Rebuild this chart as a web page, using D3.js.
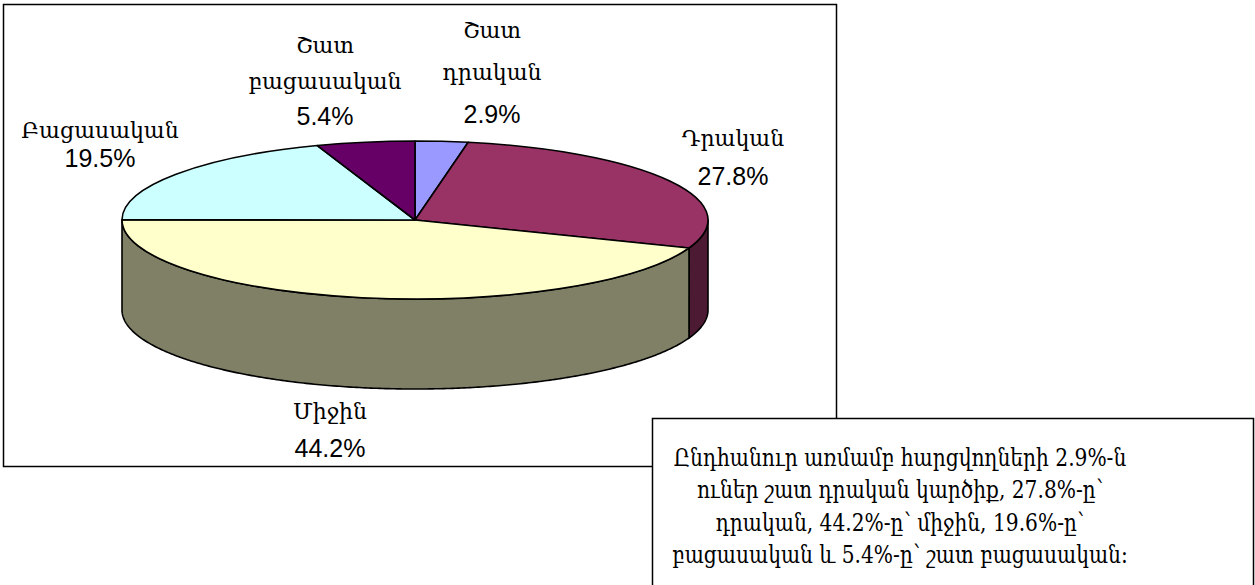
<!DOCTYPE html>
<html>
<head>
<meta charset="utf-8">
<script src="https://cdn.jsdelivr.net/npm/d3@7"></script>
<style>
  body { margin: 0; background: #fff; }
</style>
</head>
<body>
<script>
// data
var categories = ["Շատ դրական", "Դրական", "Միջին", "Բացասական", "Շատ բացասական"];
var values = [2.9, 27.8, 44.2, 19.5, 5.4];
var valueLabels = ["2.9%", "27.8%", "44.2%", "19.5%", "5.4%"];
var noteLines = [
  "Ընդհանուր առմամբ հարցվողների 2.9%-ն",
  "ուներ շատ դրական կարծիք, 27.8%-ը՝",
  "դրական, 44.2%-ը՝ միջին, 19.6%-ը՝",
  "բացասական և 5.4%-ը՝ շատ բացասական։"
];

// colours (top face / side wall)
var topColors = ["#9999ff", "#993366", "#ffffcc", "#ccffff", "#660066"];
var sideColors = ["#4c4c80", "#4d1a33", "#808066", "#668080", "#330033"];

// label anchors: centre x and baselines of each line
var labelLayout = [
  {x: 492, y: [38, 80, 123]},
  {x: 733, y: [146, 185]},
  {x: 330, y: [419, 457]},
  {x: 100, y: [138, 167]},
  {x: 325, y: [53, 89, 125]}
];

var W = 1255, H = 585;
var cx = 415, cy = 220, rx = 293, ry = 79, depth = 90;

var svg = d3.select("body").append("svg")
    .attr("width", W)
    .attr("height", H);

// chart frame
svg.append("rect")
    .attr("x", 3.5).attr("y", 4.5)
    .attr("width", 833).attr("height", 462)
    .attr("fill", "#fff")
    .attr("stroke", "#000")
    .attr("stroke-width", 1.5);

var pie = d3.pie().sort(null).value(function(d) { return d; });
var arcs = pie(values);

function pt(a, dy) {
  return [cx + rx * Math.sin(a), cy - ry * Math.cos(a) + dy];
}

// side walls, only the front half is visible
var sides = svg.append("g");
arcs.forEach(function(d, i) {
  var a0 = Math.max(d.startAngle, Math.PI / 2),
      a1 = Math.min(d.endAngle, 3 * Math.PI / 2);
  if (a1 <= a0) return;
  var n = Math.max(2, Math.ceil((a1 - a0) / 0.01));
  var upper = d3.range(n + 1).map(function(k) { return pt(a0 + (a1 - a0) * k / n, 0); });
  var lower = d3.range(n + 1).map(function(k) { return pt(a1 - (a1 - a0) * k / n, depth); });
  sides.append("path")
      .attr("d", d3.line()(upper.concat(lower)) + "Z")
      .attr("fill", sideColors[i])
      .attr("stroke", "#000")
      .attr("stroke-width", 1.6)
      .attr("stroke-linejoin", "round");
});

// top face
var arc = d3.arc().innerRadius(0).outerRadius(rx);
svg.append("g")
    .attr("transform", "translate(" + cx + "," + cy + ") scale(1," + (ry / rx) + ")")
  .selectAll("path")
  .data(arcs)
  .enter().append("path")
    .attr("d", arc)
    .attr("fill", function(d, i) { return topColors[i]; })
    .attr("stroke", "#000")
    .attr("stroke-width", 1.6)
    .attr("stroke-linejoin", "round")
    .attr("vector-effect", "non-scaling-stroke");

// data labels
categories.forEach(function(c, i) {
  var lines = c.split(" ");
  var lay = labelLayout[i];
  var g = svg.append("g");
  lines.forEach(function(t, j) {
    g.append("text")
        .attr("x", lay.x).attr("y", lay.y[j])
        .attr("text-anchor", "middle")
        .style("font-family", "'DejaVu Serif', serif")
        .style("font-size", "22px")
        .text(t);
  });
  g.append("text")
      .attr("x", lay.x).attr("y", lay.y[lines.length])
      .attr("text-anchor", "middle")
      .style("font-family", "'Liberation Sans', Arial, sans-serif")
      .style("font-size", "25px")
      .text(valueLabels[i]);
});

// text box
svg.append("rect")
    .attr("x", 652.5).attr("y", 418.5)
    .attr("width", 601).attr("height", 200)
    .attr("fill", "#fff")
    .attr("stroke", "#000")
    .attr("stroke-width", 1.5);

var noteY = [466, 498, 531, 563];
var note = svg.append("g");
noteLines.forEach(function(t, j) {
  note.append("text")
      .attr("x", 0).attr("y", 0)
      .attr("text-anchor", "middle")
      .attr("transform", "translate(900," + noteY[j] + ")")
      .style("font-family", "'DejaVu Serif', serif")
      .style("font-size", "25px")
      .text(t);
});
// stretch the note horizontally to the width used in the picture
var w0 = note.select("text").node().getComputedTextLength();
var sx = 453 / w0;
note.selectAll("text").attr("transform", function(d, j) {
  return "translate(900," + noteY[j] + ") scale(" + sx + ",1)";
});
</script>
</body>
</html>
